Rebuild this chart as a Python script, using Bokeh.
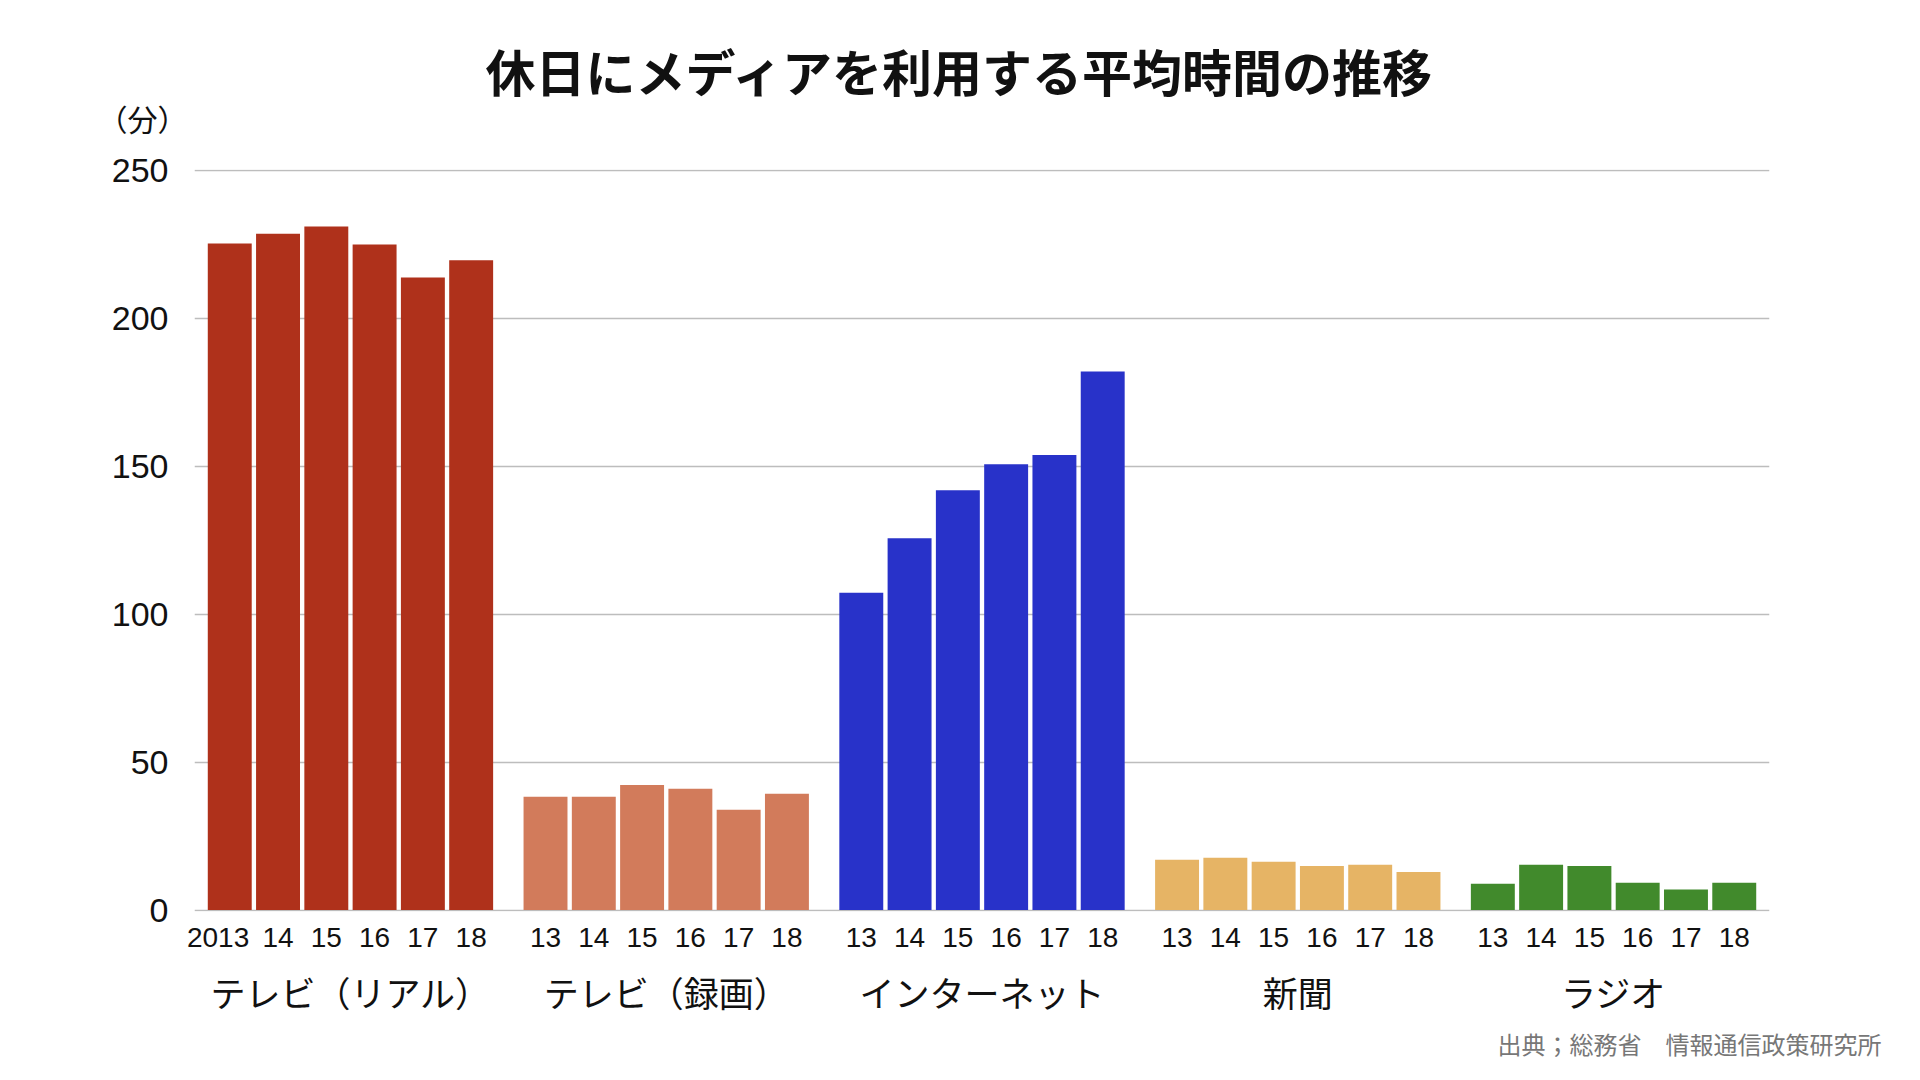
from bokeh.plotting import figure
from bokeh.models import ColumnDataSource, FactorRange, Range1d, FixedTicker, Title
from bokeh.embed import file_html
from bokeh.resources import INLINE

# ---- data ----
groups = ["テレビ（リアル）", "テレビ（録画）", "インターネット", "新聞", "ラジオ"]
year_labels = [
    ["2013\u00a0\u00a0\u00a0", "14", "15", "16", "17", "18"],
    ["13", "14", "15", "16", "17", "18"],
    ["13", "14", "15", "16", "17", "18"],
    ["13", "14", "15", "16", "17", "18"],
    ["13", "14", "15", "16", "17", "18"],
]
tv_real = [225.5, 228.8, 231.2, 225.1, 214.0, 219.8]
tv_rec = [38.3, 38.3, 42.3, 41.0, 33.9, 39.3]
internet = [107.3, 125.8, 142.0, 150.8, 153.9, 182.2]
newspaper = [17.0, 17.7, 16.3, 14.9, 15.3, 12.9]
radio = [8.9, 15.3, 14.9, 9.2, 6.9, 9.2]
y_ticks = [0, 50, 100, 150, 200, 250]

title_text = "休日にメディアを利用する平均時間の推移"
unit_text = "（分）"
source_text = "出典；総務省　情報通信政策研究所"

group_colors = ["#AF311B", "#D27B5B", "#2832C9", "#E6B465", "#418A2C"]

series = [tv_real, tv_rec, internet, newspaper, radio]
xs, tops, cols = [], [], []
for g, yl, vals, c in zip(groups, year_labels, series, group_colors):
    for y, v in zip(yl, vals):
        xs.append((g, y))
        tops.append(v)
        cols.append(c)

src = ColumnDataSource(dict(x=xs, top=tops, color=cols))

p = figure(
    x_range=FactorRange(*xs, group_padding=0.54, factor_padding=0.0,
                        range_padding=0.23, range_padding_units="absolute"),
    y_range=Range1d(-0.5, 250.5),
    width=1904, height=1064,
    output_backend="svg", toolbar_location=None,
    min_border_left=194, min_border_right=135,
    min_border_top=169, min_border_bottom=152,
    title=title_text,
)
p.vbar(x="x", top="top", width=0.91, color="color", source=src, line_color=None)

# title
p.title.text_font = "Noto Sans CJK JP"
p.title.text_font_size = "50px"
p.title.text_font_style = "bold"
p.title.text_color = "#111111"
p.title.align = "left"
p.title.offset = 291
p.title.standoff = -85

unit_title = Title(text=unit_text, align="left", offset=-97, standoff=60,
                   text_font="Noto Sans CJK JP", text_font_size="30px",
                   text_font_style="normal", text_color="#111111")
p.add_layout(unit_title, "above")

src_title = Title(text=source_text, align="right", offset=-112, standoff=8,
                  text_font="Noto Sans CJK JP", text_font_size="24px",
                  text_font_style="normal", text_color="#777777")
p.add_layout(src_title, "below")

p.outline_line_color = None
p.xgrid.grid_line_color = None
p.ygrid.grid_line_color = "#BDBDBD"
p.ygrid.grid_line_width = 1.3
p.yaxis.ticker = FixedTicker(ticks=y_ticks)
p.yaxis.axis_line_color = None
p.yaxis.major_tick_line_color = None
p.yaxis.minor_tick_line_color = None
p.yaxis.major_tick_out = 0
p.yaxis.major_tick_in = 0
p.yaxis.major_label_standoff = 26
p.yaxis.major_label_text_font = "Liberation Sans"
p.yaxis.major_label_text_font_size = "34px"
p.yaxis.major_label_text_color = "#111111"

xa = p.xaxis[0]
xa.axis_line_color = None
xa.major_tick_line_color = None
xa.major_tick_out = 0
xa.major_tick_in = 0
xa.major_label_standoff = 10
xa.major_label_text_font = "Liberation Sans"
xa.major_label_text_font_size = "28px"
xa.major_label_text_color = "#111111"
xa.group_text_font = "Noto Sans CJK JP"
xa.group_text_font_size = "35px"
xa.group_text_font_style = "normal"
xa.group_text_color = "#111111"
xa.separator_line_color = None

open("out.html", "w").write(file_html(p, INLINE))
